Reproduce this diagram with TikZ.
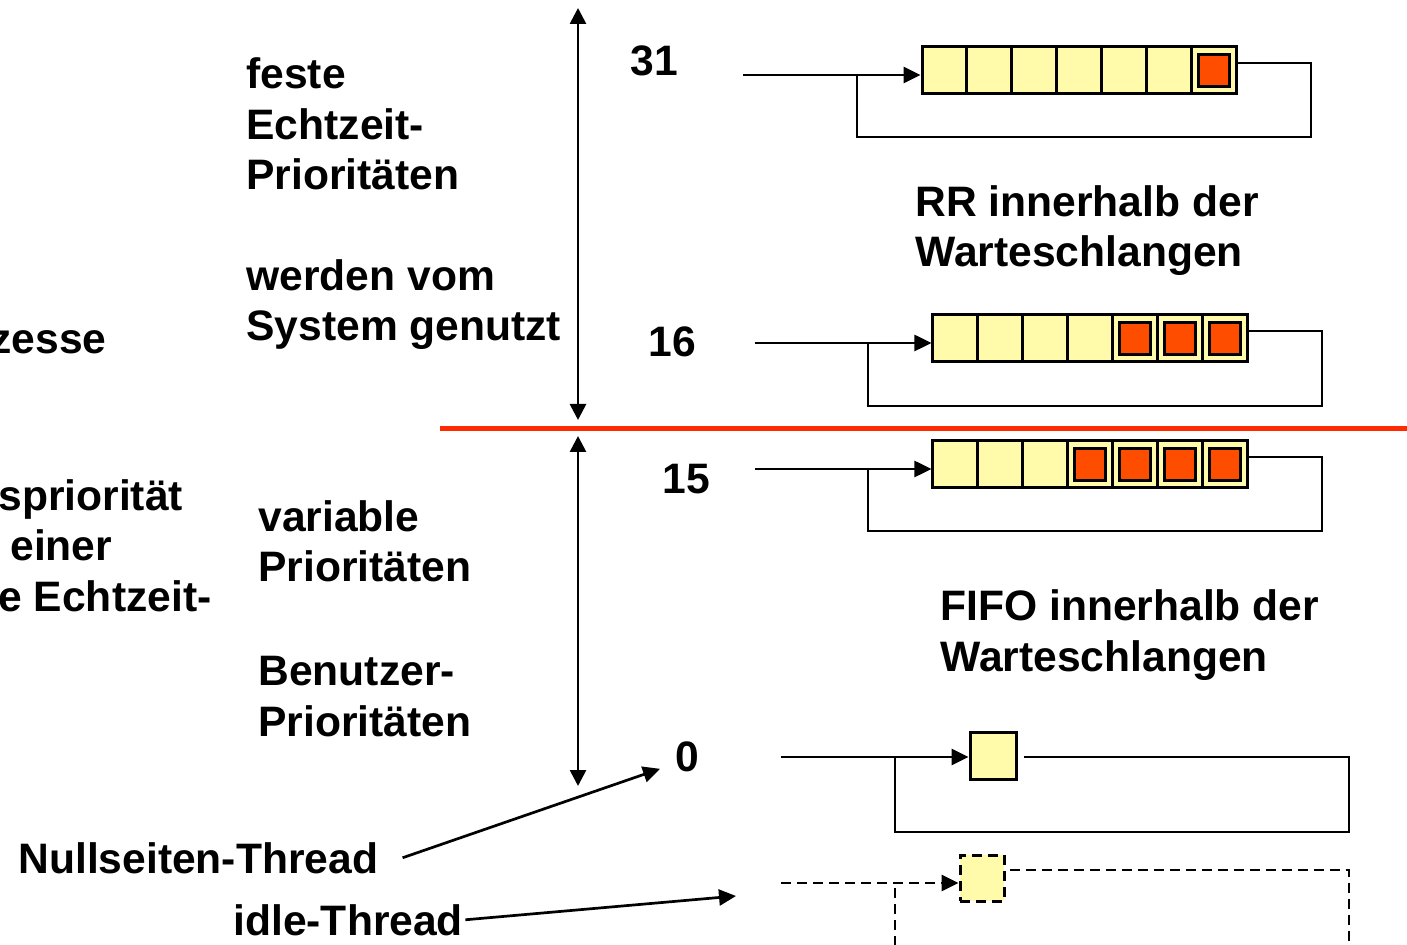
\documentclass[tikz,border=0pt]{standalone}
\usepackage{fontspec}
\setmainfont{Liberation Sans}
\usepackage{tikz}
\usetikzlibrary{arrows.meta}

\definecolor{cellyellow}{RGB}{255,251,170}
\definecolor{tokenorange}{RGB}{255,77,0}
\definecolor{linered}{RGB}{255,42,0}

\begin{document}
\begin{tikzpicture}[x=0.5pt, y=-0.5pt,
    txt/.style={font=\fontsize{21.3}{25.25}\selectfont\bfseries, inner sep=0pt, align=left, anchor=base west},
    cell/.style={draw, line width=1.5pt, fill=cellyellow, inner sep=0pt, minimum width=22.45pt, minimum height=23.5pt},
    token/.style={draw, line width=1.5pt, fill=tokenorange, inner sep=0pt, minimum width=15.5pt, minimum height=16pt},
    conn/.style={line width=1.35pt},
    tiparrow/.style={conn, -{Triangle[length=8.5pt,width=8pt]}},
    rangearrow/.style={conn, {Triangle[length=8pt,width=8pt]}-{Triangle[length=8pt,width=8pt]}},
    idledash/.style={dash pattern=on 5pt off 3pt}]
            \clip (0,0) rectangle (1407,945);

            % Cut-off text at the left edge
            \node[txt, anchor=base east] (zesse) at (107,354) {zesse};
            \node[txt] (basis) at (-2,611) {spriorität\\\hspace*{.28em}einer\\e Echtzeit-};

            % Priority ranges (base = last line)
            \node[txt] (fest) at (246,190) {feste\\Echtzeit-\\Prioritäten};
            \node[txt] (system) at (246,341) {werden vom\\System genutzt};
            \node[txt] (variabel) at (258,582) {variable\\Prioritäten};
            \node[txt] (benutzer) at (258,736) {Benutzer-\\Prioritäten};

            % Range arrows and border line
            \coordinate (top) at (578,8);
            \coordinate (mid1) at (578,420);
            \coordinate (mid2) at (578,436);
            \coordinate (bottom) at (578,786);
            \draw[rangearrow] (top) -- (mid1);
            \draw[rangearrow] (mid2) -- (bottom);
            \coordinate (redl) at (440,429);
            \coordinate (redr) at (1407,429);
            \draw[linered, line width=2.5pt] (redl) -- (redr);

            % Priority numbers
            \node[txt] (p31) at (630,76) {31};
            \node[txt] (p16) at (648,357) {16};
            \node[txt] (p15) at (662,494) {15};
            \node[txt] (p0) at (675,771) {0};

            % Queue 31
            \foreach \i in {1,...,7}
                \node[cell] (q31-\i) at ({944.5+44.9*(\i-1)},70.5) {};
            \node[token] (t31-7) at (q31-7) {};
            \coordinate (in31) at (743,75);
            \coordinate (br31) at (1311,137);
            \coordinate (bl31) at (857,75);
            \draw[tiparrow] (in31) -- (in31 -| q31-1.west);
            \draw[conn] ([yshift=3.75pt]q31-7.east) -| (br31) -| (bl31);

            \node[txt] (rr) at (915,267) {RR innerhalb der\\Warteschlangen};

            % Queue 16
            \foreach \i in {1,...,7}
                \node[cell] (q16-\i) at ({955.4+44.86*(\i-1)},338.5) {};
            \foreach \i in {5,6,7}
                \node[token] (t16-\i) at (q16-\i) {};
            \coordinate (in16) at (755,343);
            \coordinate (br16) at (1322,406);
            \coordinate (bl16) at (868,343);
            \draw[tiparrow] (in16) -- (in16 -| q16-1.west);
            \draw[conn] ([yshift=3.75pt]q16-7.east) -| (br16) -| (bl16);

            % Queue 15
            \foreach \i in {1,...,7}
                \node[cell] (q15-\i) at ({955.4+44.86*(\i-1)},464.5) {};
            \foreach \i in {4,...,7}
                \node[token] (t15-\i) at (q15-\i) {};
            \coordinate (in15) at (755,469);
            \coordinate (br15) at (1322,531);
            \coordinate (bl15) at (868,469);
            \draw[tiparrow] (in15) -- (in15 -| q15-1.west);
            \draw[conn] ([yshift=3.75pt]q15-7.east) -| (br15) -| (bl15);

            \node[txt] (fifo) at (940,671) {FIFO innerhalb der\\Warteschlangen};

            % Queue 0
            \node[cell, minimum width=23pt] (q0) at (993,755.5) {};
            \coordinate (in0) at (781,757);
            \coordinate (br0) at (1349,832);
            \coordinate (bl0) at (895,757);
            \draw[tiparrow] (in0) -- (in0 -| q0.west);
            \draw[conn] ([xshift=3pt,yshift=-0.75pt]q0.east) -| (br0) -| (bl0);

            % Idle queue
            \node[cell, idledash, minimum width=22pt, minimum height=23pt] (qi) at (982,878) {};
            \coordinate (ini) at (781,883);
            \coordinate (bri) at (1349,960);
            \coordinate (bli) at (895,883);
            \draw[tiparrow, idledash] (ini) -- (ini -| qi.west);
            \draw[conn, idledash] ([xshift=2pt,yshift=4pt]qi.east) -| (bri);
            \draw[conn, idledash] ([yshift=-2.5pt]bli) -- (bli |- bri);

            % Thread labels
            \node[txt] (null) at (18,873) {Nullseiten-Thread};
            \node[txt] (idlet) at (233,935) {idle-Thread};
            \coordinate (idletip) at (736,896);
            \draw[tiparrow] ([xshift=12pt]null.east) -- ([xshift=-7.5pt,yshift=1.5pt]p0.south west);
            \draw[tiparrow] ([xshift=1pt]idlet.east) -- (idletip);

        \end{tikzpicture}
\end{document}
